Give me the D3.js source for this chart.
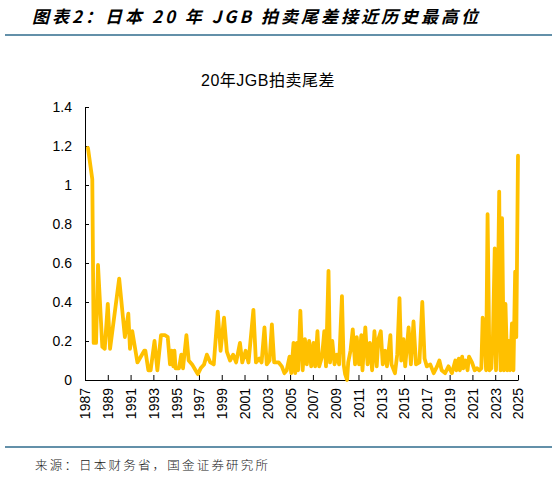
<!DOCTYPE html>
<html>
<head>
<meta charset="utf-8">
<script src="https://cdn.jsdelivr.net/npm/d3@7"></script>
<style>
  body { margin: 0; background: #fff; }
  .axis text { font-family: "Liberation Sans", Arial, sans-serif; font-size: 14px; fill: #000; }
  .axis path, .axis line { stroke: #000; }
</style>
</head>
<body>
<div id="chart"></div>
<script>
// auction dates (decimal year) and tail values
var dates = [1987.26,1987.64,1987.76,1987.97,1988.14,1988.52,1988.73,1989.0,1989.2,1990.0,
  1990.5,1990.8,1990.95,1991.15,1991.6,1992.2,1992.3,1992.56,1992.76,1993.1,
  1993.35,1993.67,1994.03,1994.26,1994.46,1994.6,1994.75,1994.85,1994.95,1995.25,
  1995.45,1995.6,1995.9,1996.1,1996.4,1996.7,1996.9,1997.15,1997.45,1997.7,
  1998.0,1998.3,1998.65,1998.9,1999.2,1999.45,1999.73,2000.0,2000.26,2000.6,
  2000.8,2001.1,2001.35,2001.78,2002.0,2002.3,2002.5,2002.75,2002.95,2003.2,
  2003.4,2003.6,2004.0,2004.27,2004.5,2004.7,2004.95,2005.1,2005.3,2005.45,
  2005.6,2005.7,2005.9,2006.1,2006.3,2006.47,2006.67,2006.85,2007.05,2007.2,
  2007.4,2007.55,2007.8,2008.0,2008.15,2008.37,2008.5,2008.7,2008.9,2009.1,
  2009.3,2009.55,2009.7,2009.83,2010.0,2010.1,2010.3,2010.5,2010.7,2010.85,
  2011.05,2011.25,2011.35,2011.6,2011.8,2012.0,2012.2,2012.4,2012.6,2012.75,
  2012.96,2013.13,2013.35,2013.5,2013.8,2013.9,2014.2,2014.4,2014.6,2014.75,
  2014.95,2015.1,2015.4,2015.6,2015.83,2016.05,2016.35,2016.6,2016.8,2017.0,
  2017.3,2017.6,2017.9,2018.1,2018.3,2018.6,2018.9,2019.2,2019.5,2019.6,
  2019.8,2019.9,2020.1,2020.2,2020.4,2020.57,2020.7,2020.96,2021.2,2021.4,
  2021.6,2021.78,2021.9,2022.07,2022.2,2022.33,2022.5,2022.66,2022.8,2022.96,
  2023.07,2023.2,2023.35,2023.47,2023.6,2023.76,2023.9,2024.06,2024.17,2024.3,
  2024.47,2024.6,2024.75,2024.85,2025.0];
var tails = [1.19,1.03,0.19,0.19,0.59,0.17,0.16,0.39,0.16,0.52,
  0.22,0.34,0.16,0.25,0.09,0.15,0.15,0.05,0.05,0.20,
  0.05,0.23,0.23,0.22,0.08,0.15,0.07,0.15,0.06,0.06,
  0.13,0.06,0.23,0.10,0.08,0.05,0.03,0.06,0.08,0.13,
  0.09,0.08,0.35,0.15,0.32,0.145,0.10,0.13,0.09,0.19,
  0.09,0.15,0.09,0.36,0.09,0.11,0.09,0.27,0.08,0.10,
  0.285,0.09,0.09,0.07,0.035,0.05,0.12,0.035,0.19,0.035,
  0.19,0.05,0.355,0.05,0.21,0.08,0.20,0.07,0.19,0.07,
  0.25,0.07,0.12,0.25,0.07,0.56,0.09,0.20,0.08,0.13,
  0.08,0.43,0.08,0.03,0.0,0.09,0.15,0.26,0.08,0.22,
  0.08,0.23,0.05,0.27,0.08,0.19,0.05,0.25,0.07,0.21,
  0.25,0.08,0.15,0.07,0.23,0.08,0.035,0.13,0.42,0.10,
  0.21,0.07,0.27,0.08,0.30,0.08,0.09,0.40,0.11,0.07,
  0.08,0.035,0.07,0.10,0.05,0.035,0.07,0.035,0.10,0.05,
  0.11,0.05,0.12,0.06,0.10,0.05,0.12,0.09,0.05,0.06,
  0.05,0.06,0.32,0.22,0.05,0.85,0.05,0.06,0.22,0.675,
  0.05,0.28,0.966,0.05,0.83,0.05,0.39,0.05,0.20,0.05,
  0.29,0.05,0.555,0.22,1.15];
var yearTicks = d3.range(1987, 2026, 2);
var valueTicks = [0, 0.2, 0.4, 0.6, 0.8, 1, 1.2, 1.4];

var W = 559, H = 478;
var margin = {top: 107, right: 41, bottom: 98, left: 85};

var svg = d3.select("#chart").append("svg")
    .attr("width", W)
    .attr("height", H)
    .style("background", "#fff");

// page title + rules
svg.append("text")
    .attr("x", 32).attr("y", 23)
    .attr("font-family", "'Noto Sans CJK SC', sans-serif")
    .attr("font-weight", 700)
    .attr("font-style", "italic")
    .attr("font-size", 17)
    .attr("letter-spacing", 3)
    .text("图表2：日本 20 年 JGB 拍卖尾差接近历史最高位");

svg.append("line")
    .attr("x1", 5).attr("x2", 552).attr("y1", 35).attr("y2", 35)
    .attr("stroke", "#2f6b8c").attr("stroke-width", 1.5);

svg.append("line")
    .attr("x1", 5).attr("x2", 552).attr("y1", 447).attr("y2", 447)
    .attr("stroke", "#2f6b8c").attr("stroke-width", 1.5);

svg.append("text")
    .attr("x", 35).attr("y", 470)
    .attr("font-family", "'Noto Sans CJK SC', sans-serif")
    .attr("font-size", 12.5)
    .attr("font-weight", 300)
    .attr("letter-spacing", 2.2)
    .attr("fill", "#222")
    .text("来源：日本财务省，国金证券研究所");

// chart title
svg.append("text")
    .attr("x", 268).attr("y", 86)
    .attr("text-anchor", "middle")
    .attr("font-family", "'Liberation Sans', 'Noto Sans CJK SC', sans-serif")
    .attr("font-size", 16)
    .attr("letter-spacing", 0.5)
    .text("20年JGB拍卖尾差");

var xScale = d3.scaleLinear().domain([1987, 2025]).range([margin.left, W - margin.right]);
var yScale = d3.scaleLinear().domain([0, 1.4]).range([H - margin.bottom, margin.top]);

var xAxis = d3.axisBottom(xScale)
    .tickValues(yearTicks)
    .tickFormat(d3.format("d"))
    .tickSizeInner(-5)
    .tickSizeOuter(0);

var gx = svg.append("g")
    .attr("class", "axis")
    .attr("transform", `translate(0,${H - margin.bottom})`)
    .call(xAxis);

gx.selectAll("text")
    .attr("transform", "rotate(-90)")
    .attr("x", -8)
    .attr("y", 0)
    .attr("dy", "0.35em")
    .style("text-anchor", "end");

var yAxis = d3.axisLeft(yScale)
    .tickValues(valueTicks)
    .tickFormat(d => d3.format("")(+d.toFixed(1)))
    .tickSizeInner(-4)
    .tickSizeOuter(0)
    .tickPadding(13);

svg.append("g")
    .attr("class", "axis")
    .attr("transform", `translate(${margin.left},0)`)
    .call(yAxis);

var pts = dates.map((d, i) => ({date: d, tail: tails[i]}));

svg.append("path")
    .datum(pts)
    .attr("fill", "none")
    .attr("stroke", "#ffc000")
    .attr("stroke-width", 3.8)
    .attr("stroke-linejoin", "round")
    .attr("stroke-linecap", "round")
    .attr("d", d3.line()
        .x(d => xScale(d.date))
        .y(d => yScale(d.tail)));
</script>
</body>
</html>
